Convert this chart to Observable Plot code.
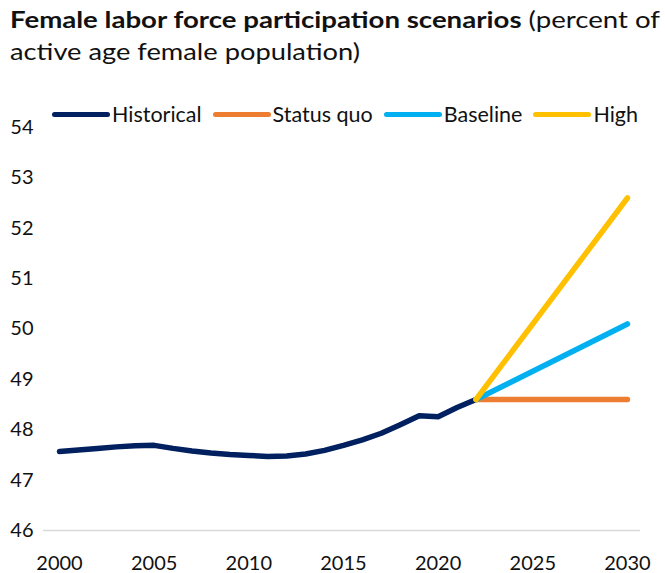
<!DOCTYPE html>
<html>
<head>
<meta charset="utf-8">
<script src="https://cdn.jsdelivr.net/npm/d3@7"></script>
<script src="https://cdn.jsdelivr.net/npm/@observablehq/plot@0.6"></script>
<style>
  body { margin: 0; background: #fff; font-family: Lato, "Liberation Sans", sans-serif; }
  #wrap { position: relative; width: 665px; height: 573px; overflow: hidden; background: #fff; }
  #chart { position: absolute; left: 0; top: 80px; z-index: 1; }
  #title { position: absolute; left: 10px; top: 3px; font-size: 23px; line-height: 32px; color: #111; z-index: 2; }
  .tline { display: block; white-space: nowrap; transform-origin: 0 0; width: max-content; }
  #title b { font-weight: 700; }
  #legend { position: absolute; left: 52px; top: 101px; display: flex; align-items: center; font-size: 21.5px; color: #111; z-index: 2; }
  .item { display: flex; align-items: center; margin-right: 11px; }
  .sw { width: 58px; height: 5px; border-radius: 3px; margin-right: 2px; }
</style>
</head>
<body>
<div id="wrap">
  <div id="chart"></div>
  <div id="title">
    <span class="tline" id="t1"><b>Female labor force participation scenarios</b> (percent of</span>
    <span class="tline" id="t2">active age female population)</span>
  </div>
  <div id="legend"></div>
</div>
<script>
const series = ["Historical", "Status quo", "Baseline", "High"];
const colors = ["#002060", "#ED7D31", "#00B0F0", "#FFC000"];

const histYears = [2000,2001,2002,2003,2004,2005,2006,2007,2008,2009,2010,2011,2012,2013,2014,2015,2016,2017,2018,2019,2020,2021,2022];
const histValues = [47.57,47.60,47.63,47.66,47.68,47.69,47.63,47.58,47.54,47.51,47.49,47.47,47.48,47.52,47.59,47.69,47.80,47.93,48.10,48.28,48.26,48.44,48.60];

const projYears = [2022, 2030];
const statusQuo = [48.60, 48.60];
const baseline = [48.60, 50.10];
const high = [48.60, 52.60];

const yTicks = [46,47,48,49,50,51,52,53,54];
const xTicks = [2000,2005,2010,2015,2020,2025,2030];

const data = [
  ...histYears.map((y, i) => ({year: y, value: histValues[i], series: "Historical"})),
  ...projYears.map((y, i) => ({year: y, value: statusQuo[i], series: "Status quo"})),
  ...projYears.map((y, i) => ({year: y, value: baseline[i], series: "Baseline"})),
  ...projYears.map((y, i) => ({year: y, value: high[i], series: "High"}))
];

// stretch title lines to the reference's wide lettering
const fit = (id, target) => {
  const el = document.getElementById(id);
  const w = el.getBoundingClientRect().width;
  if (w > 0) el.style.transform = `scaleX(${target / w})`;
};
fit("t1", 650);
fit("t2", 350);

const leg = document.getElementById("legend");
series.forEach((s, i) => {
  const it = document.createElement("div");
  it.className = "item";
  it.innerHTML = `<span class="sw" style="background:${colors[i]}"></span><span>${s}</span>`;
  leg.appendChild(it);
});

const chart = Plot.plot({
  width: 665,
  height: 493,
  marginLeft: 43,
  marginRight: 25,
  marginTop: 47,
  marginBottom: 43,
  style: {fontFamily: "Lato, 'Liberation Sans', sans-serif", fontSize: "20px", color: "#111", background: "#fff"},
  x: {domain: [1999.155, 2030.69], ticks: xTicks, tickFormat: d => String(d), tickSize: 0, tickPadding: 25, label: null},
  y: {domain: [46, 54], ticks: yTicks, tickSize: 0, tickPadding: 10, label: null},
  color: {domain: series, range: colors},
  marks: [
    Plot.ruleY([46], {stroke: "#d9d9d9", strokeWidth: 1.5}),
    Plot.line(data, {x: "year", y: "value", z: "series", stroke: "series", strokeWidth: 5.5, strokeLinecap: "round", strokeLinejoin: "round"})
  ]
});
document.getElementById("chart").appendChild(chart);
</script>
</body>
</html>
